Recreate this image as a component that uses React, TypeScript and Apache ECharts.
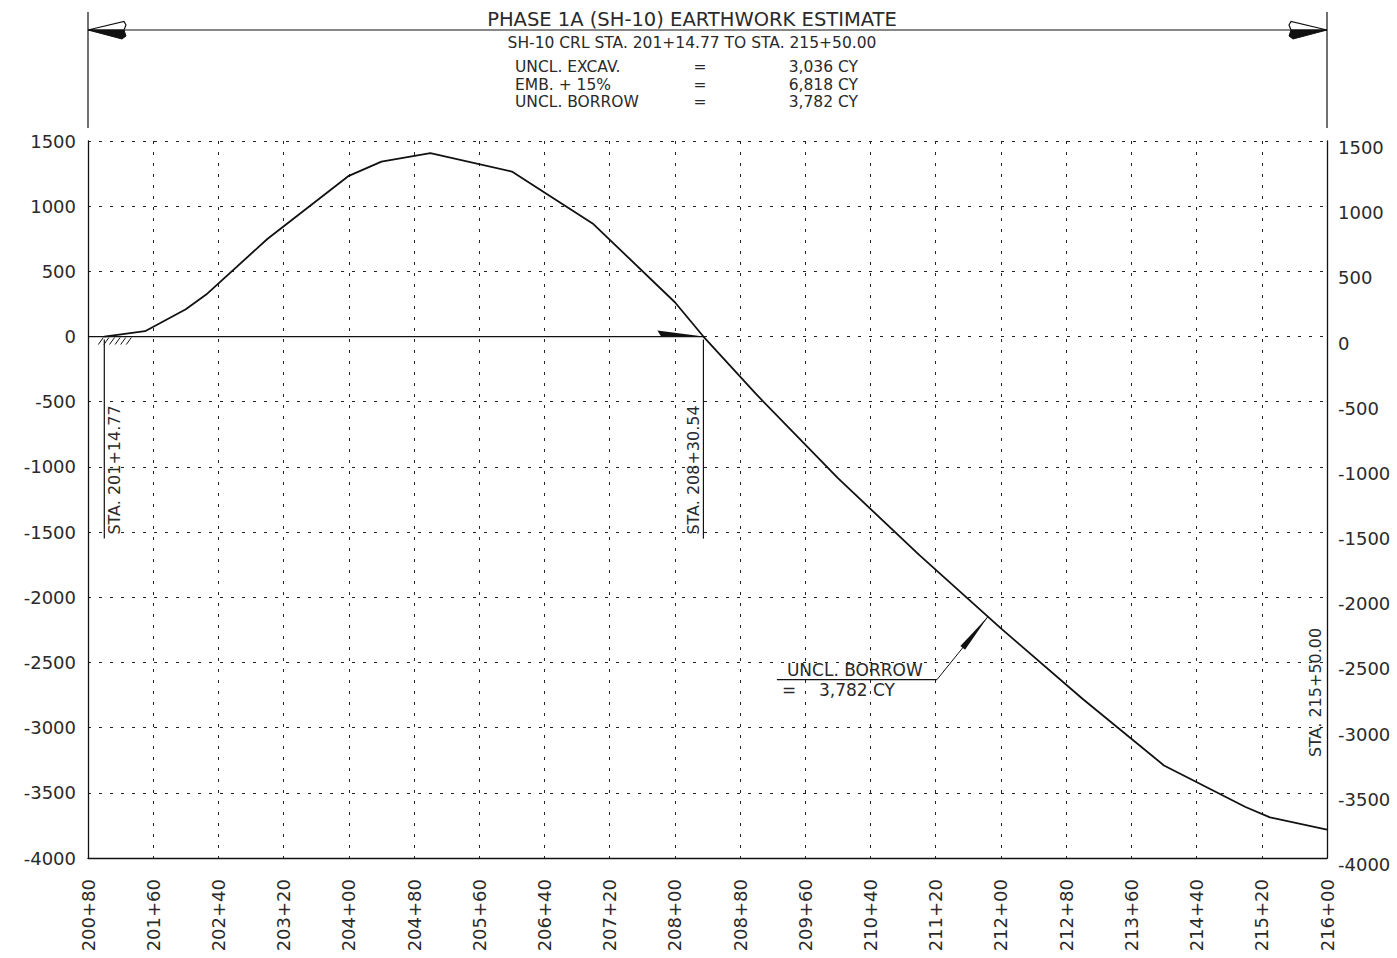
import React, { useEffect, useRef } from "react";
import * as echarts from "echarts";

// ---- data ----
const stations = [20100, 20150, 20200, 20225, 20300, 20400, 20440, 20500, 20600, 20700, 20800, 20835, 20900, 21000, 21100, 21200, 21300, 21400, 21500, 21530, 21600];
const massOrdinate = [0, 41, 209, 322, 748, 1233, 1342, 1407, 1266, 863, 263, 0, -444, -1086, -1677, -2239, -2778, -3290, -3609, -3688, -3782];

const balanceLine = [20080, 20835];
const markerStations = [20100, 20835];
const markerLabels = ["STA. 201+14.77", "STA. 208+30.54"];
const markerBottom = -1550;
const endLabel = "STA. 215+50.00";
const endLabelPos = [21586, -2730];
const borrowTipStation = 21184;

const titleText = "PHASE 1A (SH-10) EARTHWORK ESTIMATE";
const subtitleText = "SH-10 CRL STA. 201+14.77 TO STA. 215+50.00";
const summaryItems = ["UNCL. EXCAV.", "EMB. + 15%", "UNCL. BORROW"];
const summaryValues = ["3,036 CY", "6,818 CY", "3,782 CY"];
const borrowNote = ["UNCL. BORROW", "=", "3,782 CY"];

const xMin = 20080;
const xMax = 21600;
const xStep = 80;
const yMin = -4000;
const yMax = 1500;
const yStep = 500;

const FONT = "DejaVu Sans";
const INK = "#111";
const TXT = "#2a2a2a";

const stationLabel = (v: number) => {
  const h = Math.floor(v / 100);
  const r = Math.round(v - h * 100);
  return `${h}+${String(r).padStart(2, "0")}`;
};

const valueAt = (st: number) => {
  for (let i = 0; i < stations.length - 1; i++) {
    if (st >= stations[i] && st <= stations[i + 1]) {
      const t = (st - stations[i]) / (stations[i + 1] - stations[i]);
      return massOrdinate[i] + t * (massOrdinate[i + 1] - massOrdinate[i]);
    }
  }
  return 0;
};

export default function App() {
  const ref = useRef<HTMLDivElement>(null);

  useEffect(() => {
    if (!ref.current) return;
    const chart = echarts.init(ref.current, null, { renderer: "svg" });
    const dotted = { color: "#222", type: [3, 8] as any, width: 1 };
    const plain = (v: number) => String(v);
    const option: any = {
      animation: false,
      backgroundColor: "#fff",
      grid: { left: 88, right: 70, top: 141, bottom: 100, containLabel: false },
      xAxis: {
        type: "value",
        min: xMin,
        max: xMax,
        interval: xStep,
        axisLine: { show: true, onZero: false, lineStyle: { color: INK, width: 1.3 } },
        axisTick: { show: false },
        splitLine: { show: true, lineStyle: dotted },
        axisLabel: {
          rotate: 90,
          margin: 21,
          fontSize: 18,
          fontFamily: FONT,
          color: TXT,
          showMinLabel: true,
          showMaxLabel: true,
          formatter: (v: number) => stationLabel(v),
        },
      },
      yAxis: [
        {
          type: "value",
          position: "left",
          min: yMin,
          max: yMax,
          interval: yStep,
          axisLine: { show: true, onZero: false, lineStyle: { color: INK, width: 1.3 } },
          axisTick: { show: false },
          splitLine: { show: true, lineStyle: dotted },
          axisLabel: { margin: 12, fontSize: 18, fontFamily: FONT, color: TXT, formatter: plain },
        },
        {
          type: "value",
          position: "right",
          min: yMin,
          max: yMax,
          interval: yStep,
          axisLine: { show: true, onZero: false, lineStyle: { color: INK, width: 1.3 } },
          axisTick: { show: false },
          splitLine: { show: false },
          axisLabel: {
            margin: 11,
            fontSize: 18,
            fontFamily: FONT,
            color: TXT,
            formatter: plain,
            verticalAlign: "top",
            lineHeight: 13,
          },
        },
      ],
      series: [
        {
          type: "line",
          data: stations.map((s, i) => [s, massOrdinate[i]]),
          symbol: "none",
          lineStyle: { color: INK, width: 1.8 },
          z: 5,
        },
        {
          type: "line",
          data: balanceLine.map((s) => [s, 0]),
          symbol: "none",
          lineStyle: { color: INK, width: 1.3 },
          z: 4,
        },
      ],
    };
    chart.setOption(option);

    const px = (x: number, y: number) =>
      chart.convertToPixel({ xAxisIndex: 0, yAxisIndex: 0 }, [x, y]) as number[];

    const L = px(xMin, 0)[0];
    const R = px(xMax, 0)[0];
    const dimY = 30;
    const g: any[] = [];
    const line = (x1: number, y1: number, x2: number, y2: number, w = 1.2) =>
      g.push({ type: "line", shape: { x1, y1, x2, y2 }, style: { stroke: INK, lineWidth: w }, silent: true });
    const text = (t: string, x: number, y: number, size: number, align = "left", vAlign = "middle", rotation = 0) =>
      g.push({
        type: "text",
        x,
        y,
        rotation,
        style: { text: t, fontSize: size, fontFamily: FONT, fill: TXT, align, verticalAlign: vAlign },
        silent: true,
      });

    // dimension frame at top
    line(L, 12, L, 128);
    line(R, 12, R, 128);
    line(L, dimY, R, dimY);
    // left arrow
    g.push({ type: "polygon", shape: { points: [[L, dimY], [L + 36, dimY - 8.5], [L + 38, dimY - 5], [L + 36, dimY]] }, style: { fill: "#fff", stroke: INK, lineWidth: 1.2 }, silent: true });
    g.push({ type: "polygon", shape: { points: [[L, dimY], [L + 36, dimY], [L + 38, dimY + 6], [L + 34, dimY + 9]] }, style: { fill: INK, stroke: INK, lineWidth: 1 }, silent: true });
    // right arrow
    g.push({ type: "polygon", shape: { points: [[R, dimY], [R - 36, dimY - 8.5], [R - 38, dimY - 5], [R - 36, dimY]] }, style: { fill: "#fff", stroke: INK, lineWidth: 1.2 }, silent: true });
    g.push({ type: "polygon", shape: { points: [[R, dimY], [R - 36, dimY], [R - 38, dimY + 6], [R - 34, dimY + 9]] }, style: { fill: INK, stroke: INK, lineWidth: 1 }, silent: true });

    // title block
    text(titleText, 692, 19, 19.5, "center");
    text(subtitleText, 692, 43, 15.5, "center");
    summaryItems.forEach((s, i) => {
      const y = 67 + i * 17.5;
      text(s, 515, y, 15.5, "left");
      text("=", 700, y, 15.5, "center");
      text(summaryValues[i], 858, y, 15.5, "right");
    });

    // hatch at start
    const p0 = px(stations[0], 0);
    for (let i = 0; i < 6; i++) {
      const x0 = p0[0] - 6 + i * 5.6;
      line(x0, p0[1] + 8, x0 + 5, p0[1] + 1, 1);
    }

    // station markers
    markerStations.forEach((st, i) => {
      const top = px(st, 0);
      const bot = px(st, markerBottom);
      line(top[0], top[1] + 3, bot[0], bot[1], 1.2);
      const tx = i === 0 ? top[0] + 10 : top[0] - 10;
      text(markerLabels[i], tx, bot[1] - 4, 16, "left", "middle", Math.PI / 2);
    });

    // balance arrow on zero line
    const pb = px(balanceLine[1], 0);
    g.push({ type: "polygon", shape: { points: [[pb[0] - 46, pb[1] - 6], [pb[0], pb[1]], [pb[0] - 42, pb[1] + 0.5]] }, style: { fill: INK }, silent: true });

    // end label
    const pe = px(endLabelPos[0], endLabelPos[1]);
    text(endLabel, pe[0], pe[1], 16, "center", "middle", Math.PI / 2);

    // borrow leader
    const tip = px(borrowTipStation, valueAt(borrowTipStation));
    const elbow = [tip[0] - 51, tip[1] + 63];
    const end = [elbow[0] - 160, elbow[1]];
    line(tip[0], tip[1], elbow[0], elbow[1], 1);
    line(elbow[0], elbow[1], end[0], end[1], 1.2);
    const ux = -51 / 81, uy = 63 / 81;
    const bx = tip[0] + ux * 40, by = tip[1] + uy * 40;
    g.push({ type: "polygon", shape: { points: [[tip[0], tip[1]], [bx + uy * 3, by - ux * 3], [bx - uy * 3, by + ux * 3]] }, style: { fill: INK }, silent: true });
    text(borrowNote[0], end[0] + 10, elbow[1] - 1, 17, "left", "bottom");
    text(borrowNote[1], end[0] + 5, elbow[1] + 10, 17, "left", "middle");
    text(borrowNote[2], end[0] + 42, elbow[1] + 10, 17, "left", "middle");

    chart.setOption({ graphic: g });

    return () => chart.dispose();
  }, []);

  return (
    <div
      ref={ref}
      style={{ position: "fixed", left: 0, top: 0, width: 1397, height: 958, background: "#fff" }}
    />
  );
}
